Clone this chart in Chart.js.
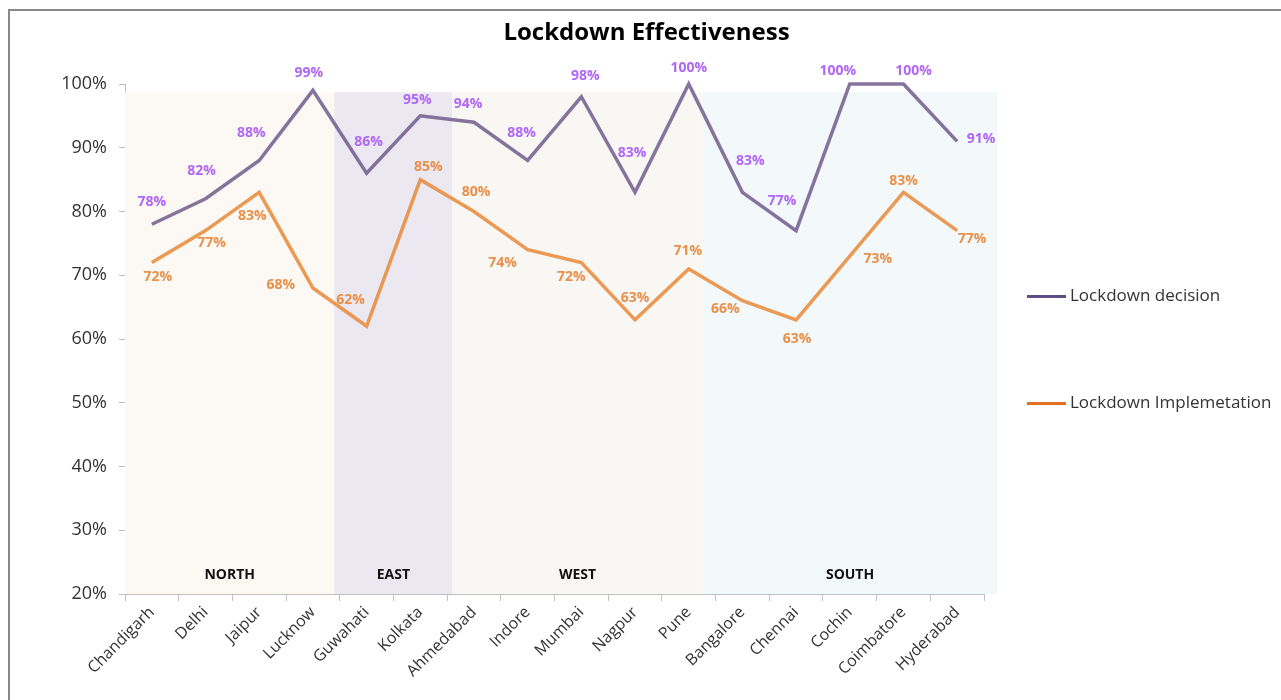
<!DOCTYPE html>
<html>
<head>
<meta charset="utf-8">
<title>Lockdown Effectiveness</title>
<script src="https://cdn.jsdelivr.net/npm/chart.js@4.4.1/dist/chart.umd.min.js"></script>
<style>
    html, body { margin: 0; padding: 0; background: #fff; }
    #wrap { position: relative; width: 1281px; height: 700px; }
    #frame { position: absolute; left: 8px; top: 9px; right: -10px; bottom: -10px; border-top: 2px solid #888; border-left: 2px solid #888; }
    #lockdownChart { position: absolute; left: 0; top: 0; }
</style>
</head>
<body>
<div id="wrap">
    <div id="frame"></div>
    <canvas id="lockdownChart" width="1281" height="700"></canvas>
</div>
<script>
const cities = ['Chandigarh', 'Delhi', 'Jaipur', 'Lucknow', 'Guwahati', 'Kolkata', 'Ahmedabad', 'Indore',
    'Mumbai', 'Nagpur', 'Pune', 'Bangalore', 'Chennai', 'Cochin', 'Coimbatore', 'Hyderabad'];
const decision = [78, 82, 88, 99, 86, 95, 94, 88, 98, 83, 100, 83, 77, 100, 100, 91];
const implementation = [72, 77, 83, 68, 62, 85, 80, 74, 72, 63, 71, 66, 63, 73, 83, 77];

// zones, given as ranges over the city index
const regions = ['NORTH', 'EAST', 'WEST', 'SOUTH'];
const regionFrom = [-0.5, 3.4, 5.6, 10.26];
const regionTo = [3.4, 5.6, 10.26, 15.75];
const regionTop = 98.7;

const yTicks = [20, 30, 40, 50, 60, 70, 80, 90, 100];

const chartTitle = 'Lockdown Effectiveness';
const FONT = "'Open Sans', sans-serif";

// title over the whole canvas, not just the plot
const centerTitle = {
    id: 'centerTitle',
    afterDraw(chart) {
        const ctx = chart.ctx;
        ctx.save();
        ctx.font = "bold 24px " + FONT;
        ctx.fillStyle = '#000';
        ctx.textAlign = 'center';
        ctx.textBaseline = 'middle';
        ctx.fillText(chartTitle, chart.width / 2 + 6, 33);
        ctx.restore();
    }
};

// shading + zone names behind the lines
const regionBands = {
    id: 'regionBands',
    beforeDatasetsDraw(chart) {
        const { ctx, scales: { x, y } } = chart;
        const fills = ['#fcf8f4', '#ece8f1', '#f9f7f3', '#f3f8fa'];
        ctx.save();
        regions.forEach((name, i) => {
            const x0 = x.getPixelForValue(regionFrom[i]);
            const x1 = x.getPixelForValue(regionTo[i]);
            const top = y.getPixelForValue(regionTop);
            const bottom = y.getPixelForValue(20);
            ctx.fillStyle = fills[i];
            ctx.fillRect(x0, top, x1 - x0, bottom - top);
            ctx.fillStyle = '#111';
            ctx.font = "bold 14px " + FONT;
            ctx.textAlign = 'center';
            ctx.textBaseline = 'middle';
            ctx.fillText(name, (x0 + x1) / 2, y.getPixelForValue(23));
        });
        ctx.restore();
    }
};

// percentage labels next to every point
const pointLabels = {
    id: 'pointLabels',
    afterDatasetsDraw(chart, args, opts) {
        const ctx = chart.ctx;
        ctx.save();
        ctx.font = "bold 14px " + FONT;
        ctx.textAlign = 'center';
        ctx.textBaseline = 'middle';
        chart.data.datasets.forEach((ds, di) => {
            const meta = chart.getDatasetMeta(di);
            const offs = opts.offsets[di];
            ctx.fillStyle = opts.colors[di];
            meta.data.forEach((pt, i) => {
                ctx.fillText(ds.data[i] + '%', pt.x + offs[i][0], pt.y + offs[i][1]);
            });
        });
        ctx.restore();
    }
};

// legend on the right, two rows far apart
const sideLegend = {
    id: 'sideLegend',
    afterDraw(chart, args, opts) {
        const { ctx, chartArea } = chart;
        const left = chartArea.right + 43;
        const mid = chart.height / 2;
        ctx.save();
        ctx.font = "17px " + FONT;
        ctx.textBaseline = 'middle';
        ctx.textAlign = 'left';
        chart.data.datasets.forEach((ds, i) => {
            const yy = mid + (i - 0.5) * 107;
            ctx.strokeStyle = opts.colors[i];
            ctx.lineWidth = 3;
            ctx.beginPath();
            ctx.moveTo(left, yy);
            ctx.lineTo(left + 39, yy);
            ctx.stroke();
            ctx.fillStyle = '#333';
            ctx.fillText(ds.label, left + 43, yy);
        });
        ctx.restore();
    }
};

const data = {
    labels: cities,
    datasets: [{
        label: 'Lockdown decision',
        data: decision,
        borderColor: 'rgba(112, 92, 140, 0.85)',
        borderWidth: 3.5,
        pointRadius: 0,
        tension: 0,
        clip: false
    }, {
        label: 'Lockdown Implemetation',
        data: implementation,
        borderColor: 'rgba(232, 140, 60, 0.88)',
        borderWidth: 3.5,
        pointRadius: 0,
        tension: 0,
        clip: false
    }]
};

const config = {
    type: 'line',
    data: data,
    plugins: [regionBands, pointLabels, sideLegend, centerTitle],
    options: {
        responsive: false,
        animation: false,
        layout: { padding: { left: 18, right: 297, top: 84, bottom: 0 } },
        plugins: {
            legend: { display: false },
            tooltip: { enabled: false },
            title: { display: false },
            pointLabels: {
                colors: ['#b066f7', '#e8904a'],
                offsets: [
                    [[0, -22], [-4, -28], [-8, -27], [-4, -17], [2, -31], [-3, -16], [-6, -18], [-6, -27],
                     [4, -21], [-3, -39], [0, -16], [8, -31], [-14, -30], [-12, -13], [10, -13], [24, -2]],
                    [[6, 15], [6, 12], [-7, 24], [-32, -3], [-16, -26], [8, -13], [2, -19], [-25, 13],
                     [-10, 15], [0, -22], [-1, -18], [-17, 8], [1, 19], [28, 3], [0, -11], [15, 8]]
                ]
            },
            sideLegend: { colors: ['#604c86', '#e2701c'] }
        },
        scales: {
            x: {
                offset: true,
                grid: { drawOnChartArea: false, offset: true, tickLength: 7, color: '#bfbfbf' },
                border: { color: '#bfbfbf' },
                ticks: { autoSkip: false, minRotation: 45, maxRotation: 45, color: '#333', font: { family: FONT, size: 16 }, padding: 2 },
                afterFit: (scale) => { scale.height = 106; }
            },
            y: {
                min: 20,
                max: 100,
                afterBuildTicks: (scale) => { scale.ticks = yTicks.map(v => ({ value: v })); },
                grid: { drawOnChartArea: false, tickLength: 6, color: '#bfbfbf' },
                border: { color: '#bfbfbf' },
                ticks: { color: '#333', font: { family: FONT, size: 18 }, padding: 12, callback: (v) => v + '%' },
                afterFit: (scale) => { scale.width = 107; }
            }
        }
    }
};

const ctx = document.getElementById('lockdownChart').getContext('2d');
const lockdownChart = new Chart(ctx, config);
</script>
</body>
</html>
